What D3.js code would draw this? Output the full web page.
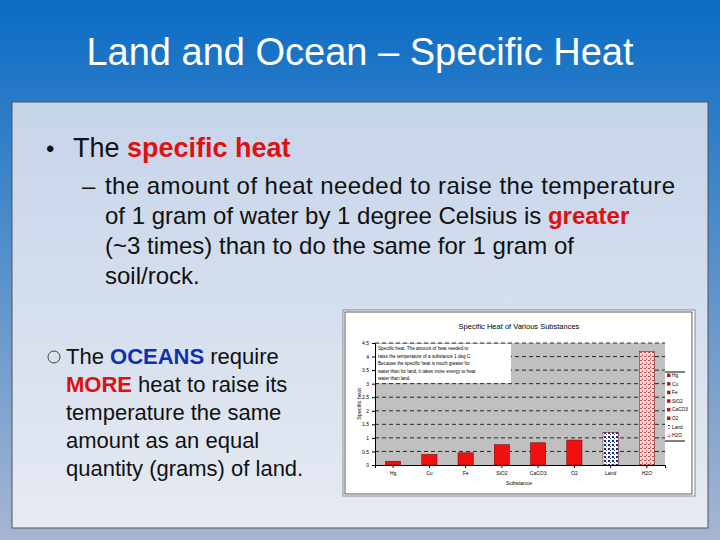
<!DOCTYPE html>
<html><head><meta charset="utf-8">
<script src="https://cdn.jsdelivr.net/npm/d3@7"></script>
<style>body{margin:0;}svg{display:block;font-family:Arial,"Liberation Sans",sans-serif;}</style>
</head><body>
<svg width="720" height="540"></svg>
<script>
const substances = ["Hg", "Cu", "Fe", "SiO2", "CaCO3", "O2", "Land", "H2O"];
const specificHeat = [0.14, 0.39, 0.45, 0.75, 0.82, 0.92, 1.2, 4.18];
const yTicks = [0, 0.5, 1, 1.5, 2, 2.5, 3, 3.5, 4, 4.5];
const yTickLabels = ["0", "0.5", "1", "1.5", "2", "2.5", "3", "3.5", "4", "4.5"];

const svg = d3.select("svg");
const defs = svg.append("defs");

// slide background
const bg = defs.append("linearGradient").attr("id", "bg").attr("x1", 0).attr("y1", 0).attr("x2", 0).attr("y2", 1);
bg.append("stop").attr("offset", 0).attr("stop-color", "#0a6cc4");
bg.append("stop").attr("offset", 1).attr("stop-color", "#a7b6d2");
const box = defs.append("linearGradient").attr("id", "box").attr("x1", 0).attr("y1", 0).attr("x2", 0).attr("y2", 1);
box.append("stop").attr("offset", 0).attr("stop-color", "#c6d4ea");
box.append("stop").attr("offset", 1).attr("stop-color", "#e6eaf2");

// bar patterns
const pl = defs.append("pattern").attr("id", "landPat").attr("width", 4).attr("height", 4).attr("patternUnits", "userSpaceOnUse");
pl.append("rect").attr("width", 4).attr("height", 4).attr("fill", "#fff");
pl.append("rect").attr("width", 2).attr("height", 2).attr("fill", "#1a2a80");
pl.append("rect").attr("x", 2).attr("y", 2).attr("width", 1).attr("height", 1).attr("fill", "#5060b0");
const pw = defs.append("pattern").attr("id", "waterPat").attr("width", 4).attr("height", 4).attr("patternUnits", "userSpaceOnUse");
pw.append("rect").attr("width", 4).attr("height", 4).attr("fill", "#f4dada");
pw.append("rect").attr("width", 2).attr("height", 1).attr("fill", "#c84848");
pw.append("rect").attr("x", 2).attr("y", 2).attr("width", 1).attr("height", 2).attr("fill", "#d87070");

svg.append("rect").attr("width", 720).attr("height", 540).attr("fill", "url(#bg)");
svg.append("text").attr("x", 360).attr("y", 65).attr("text-anchor", "middle")
  .attr("fill", "#fff").attr("font-size", 38).text("Land and Ocean – Specific Heat");
svg.append("rect").attr("x", 12).attr("y", 102).attr("width", 696).attr("height", 426)
  .attr("fill", "url(#box)").attr("stroke", "#555").attr("stroke-width", 1);

// bullet text
svg.append("text").attr("x", 46).attr("y", 157).attr("font-size", 24).attr("fill", "#111").text("•");
const t1 = svg.append("text").attr("x", 73).attr("y", 157).attr("font-size", 27).attr("fill", "#111");
t1.append("tspan").text("The ");
t1.append("tspan").attr("fill", "#e01010").attr("font-weight", "bold").text("specific heat");
svg.append("text").attr("x", 82).attr("y", 194).attr("font-size", 24).attr("fill", "#111").text("–");
const lines = [
  [["the amount of heat needed to raise the temperature", null]],
  [["of 1 gram of water by 1 degree Celsius is ", null], ["greater", "red"]],
  [["(~3 times) than to do the same for 1 gram of", null]],
  [["soil/rock.", null]]
];
lines.forEach((ln, i) => {
  const t = svg.append("text").attr("x", 105).attr("y", 194 + i * 30)
    .attr("font-size", 24).attr("fill", "#111").attr("textLength", i === 0 ? 570 : null);
  ln.forEach(([s, c]) => {
    const sp = t.append("tspan").text(s);
    if (c) sp.attr("fill", "#e01010").attr("font-weight", "bold");
  });
});
svg.append("circle").attr("cx", 54).attr("cy", 357).attr("r", 6).attr("fill", "none").attr("stroke", "#444");
const ocean = [
  [["The ", null], ["OCEANS", "#1030b0"], [" require", null]],
  [["MORE", "#e01010"], [" heat to raise its", null]],
  [["temperature the same", null]],
  [["amount as an equal", null]],
  [["quantity (grams) of land.", null]]
];
ocean.forEach((ln, i) => {
  const t = svg.append("text").attr("x", 66).attr("y", 364 + i * 28)
    .attr("font-size", 22).attr("fill", "#111");
  ln.forEach(([s, c]) => {
    const sp = t.append("tspan").text(s);
    if (c) sp.attr("fill", c).attr("font-weight", "bold");
  });
});

// chart
const cg = svg.append("g");
cg.append("rect").attr("x", 343).attr("y", 310).attr("width", 352).attr("height", 186)
  .attr("fill", "#fff").attr("stroke", "#888");
cg.append("rect").attr("x", 345).attr("y", 312).attr("width", 347).attr("height", 182)
  .attr("fill", "none").attr("stroke", "#333").attr("stroke-width", 0.8);
const m = {left: 375, right: 665, top: 343, bottom: 465};
const x = d3.scaleBand().domain(substances).range([m.left, m.right]).paddingInner(0.58).paddingOuter(0.29);
const y = d3.scaleLinear().domain([0, 4.5]).range([m.bottom, m.top]);

cg.append("rect").attr("x", m.left).attr("y", m.top).attr("width", m.right - m.left).attr("height", m.bottom - m.top).attr("fill", "#c0c0c0");
cg.selectAll(".grid").data(yTicks.slice(1)).join("line")
  .attr("x1", m.left).attr("x2", m.right).attr("y1", d => y(d)).attr("y2", d => y(d))
  .attr("stroke", "#000").attr("stroke-dasharray", "4,3").attr("stroke-width", 0.8);

cg.selectAll(".bar").data(specificHeat).join("rect")
  .attr("x", (d, i) => x(substances[i])).attr("width", x.bandwidth())
  .attr("y", d => y(d)).attr("height", d => y(0) - y(d))
  .attr("fill", (d, i) => substances[i] === "Land" ? "url(#landPat)" : substances[i] === "H2O" ? "url(#waterPat)" : "#f01010")
  .attr("stroke", "#600").attr("stroke-width", 0.5);

const ya = cg.append("g").attr("transform", `translate(${m.left},0)`)
  .call(d3.axisLeft(y).tickValues(yTicks).tickFormat((d, i) => yTickLabels[i]).tickSize(3));
ya.selectAll("text").attr("font-size", 5);
const xa = cg.append("g").attr("transform", `translate(0,${m.bottom})`)
  .call(d3.axisBottom(x).tickSize(3));
xa.selectAll("text").attr("font-size", 5);

cg.append("text").attr("x", 519).attr("y", 329).attr("text-anchor", "middle").attr("font-size", 7.5).text("Specific Heat of Various Substances");
cg.append("text").attr("x", 519).attr("y", 485).attr("text-anchor", "middle").attr("font-size", 5.5).text("Substance");
cg.append("text").attr("transform", "translate(361,404) rotate(-90)").attr("text-anchor", "middle").attr("font-size", 5.5).text("Specific heat");

// note box
cg.append("rect").attr("x", 376).attr("y", 344).attr("width", 135).attr("height", 39).attr("fill", "#fff");
["Specific heat: The amount of heat needed to", "raise the temperature of a substance 1 deg C.",
 "Because the specific heat is much greater for", "water than for land, it takes more energy to heat",
 "water than land."].forEach((s, i) => {
  cg.append("text").attr("x", 378).attr("y", 350 + i * 7.5).attr("font-size", 4.6).text(s);
});

// legend
cg.append("line").attr("x1", 665).attr("x2", 685).attr("y1", 372).attr("y2", 372).attr("stroke", "#000");
cg.append("line").attr("x1", 665).attr("x2", 685).attr("y1", 441).attr("y2", 441).attr("stroke", "#000");
substances.forEach((s, i) => {
  const yy = 376 + i * 8.6;
  cg.append("rect").attr("x", 667).attr("y", yy - 2.5).attr("width", 3.5).attr("height", 3.5)
    .attr("fill", s === "Land" ? "url(#landPat)" : s === "H2O" ? "url(#waterPat)" : "#b02020");
  cg.append("text").attr("x", 672).attr("y", yy + 1).attr("font-size", 4.8).text(s);
});
</script>
</body></html>
